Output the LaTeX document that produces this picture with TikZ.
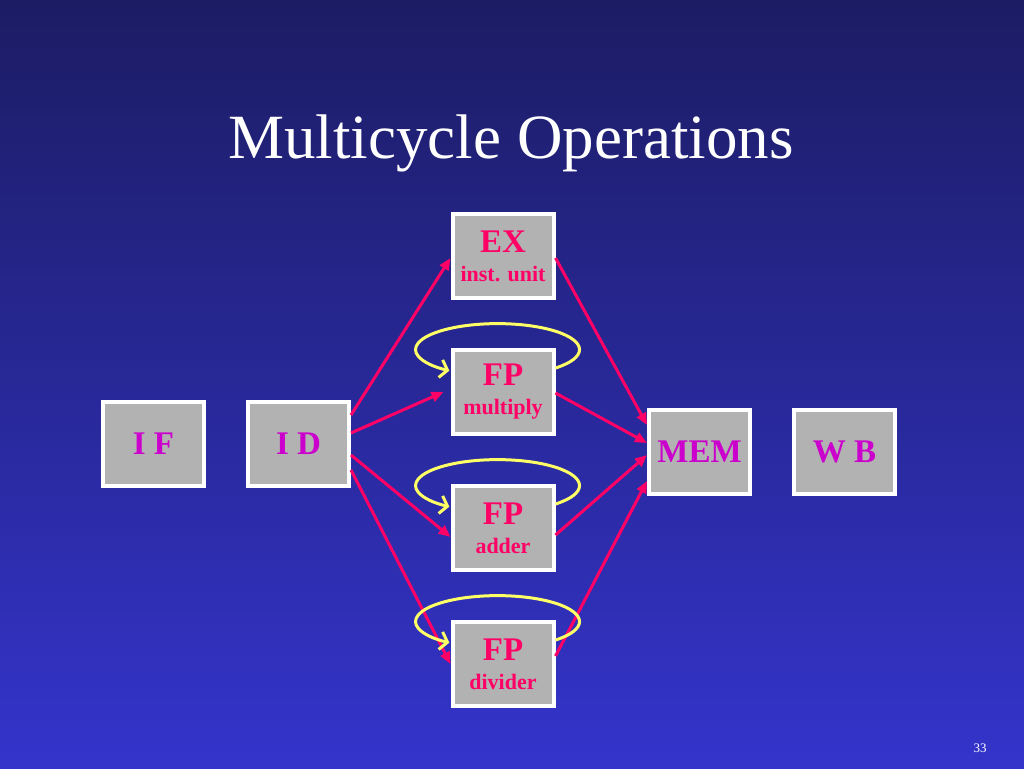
\documentclass[tikz,border=0pt]{standalone}
\usepackage{fontspec}
\setmainfont{Liberation Serif}
\usetikzlibrary{shapes,arrows.meta,positioning,calc}

\definecolor{slidetop}{RGB}{28,28,100}
\definecolor{slidebottom}{RGB}{52,52,204}
\definecolor{boxgray}{RGB}{178,178,178}
\definecolor{stagemag}{RGB}{204,0,204}
\definecolor{unitpink}{RGB}{255,0,102}
\definecolor{loopyellow}{RGB}{255,255,102}

\begin{document}
\begin{tikzpicture}[
    x=1pt, y=-1pt,
    stage/.style={rectangle, draw=white, line width=4pt, fill=boxgray, minimum width=101pt, minimum height=84pt, inner sep=0pt, align=center, text=stagemag, font=\fontsize{33}{29}\selectfont\bfseries},
    unit/.style={stage, text=unitpink},
    arrow/.style={-{Triangle[length=12pt,width=10pt]}, line width=3pt, draw=unitpink},
    recycle/.style={-{Straight Barb[length=7pt,width=18pt]}, line width=3pt, draw=loopyellow}
]

% Slide background
\useasboundingbox (0,0) rectangle (1024,768);
\shade[top color=slidetop, bottom color=slidebottom] (0,0) rectangle (1024,768);

% Title
\node[font=\fontsize{63}{70}\selectfont, text=white, anchor=base] (title) at (511,158) {Multicycle Operations};

% Front end
\node[stage] (if) at (153.5,443.5) {I F};
\node[stage, right=40pt of if] (id) {I D};

% Execution units
\node[unit] (ex) at (503,256) {EX\\{\fontsize{22}{29}\selectfont inst. unit}};
\node[unit, below=48pt of ex] (fp_mult) {FP\\{\fontsize{22}{29}\selectfont multiply}};
\node[unit, below=48pt of fp_mult] (fp_add) {FP\\{\fontsize{22}{29}\selectfont adder}};
\node[unit, below=48pt of fp_add] (fp_div) {FP\\{\fontsize{22}{29}\selectfont divider}};

% Back end
\node[stage] (mem) at (699.5,451.5) {MEM};
\node[stage, right=40pt of mem] (wb) {W B};

% Issue arrows
\draw[arrow] ([yshift=28.5pt]id.east) -- ([yshift=-2pt]ex.west);
\draw[arrow] ([yshift=10.5pt]id.east) -- ([xshift=-7pt]fp_mult.west);
\draw[arrow] ([yshift=-11.5pt]id.east) -- ([yshift=-9pt]fp_add.west);
\draw[arrow] ([yshift=-26.5pt]id.east) -- (fp_div.west);

% Arrows into MEM
\draw[arrow] ([yshift=-2pt]ex.east) -- ([yshift=26.5pt]mem.west);
\draw[arrow] ([yshift=-1pt]fp_mult.east) -- ([yshift=8.5pt]mem.west);
\draw[arrow] ([yshift=-7pt]fp_add.east) -- ([yshift=-3.5pt]mem.west);
\draw[arrow] ([yshift=8pt]fp_div.east) -- ([yshift=-29.5pt]mem.west);

% Multicycle loops
\draw[recycle] ([yshift=24pt]fp_mult.east) arc[start angle=-45, end angle=234, x radius=82pt, y radius=26pt];
\draw[recycle] ([yshift=24pt]fp_add.east) arc[start angle=-45, end angle=234, x radius=82pt, y radius=26pt];
\draw[recycle] ([yshift=24pt]fp_div.east) arc[start angle=-45, end angle=234, x radius=82pt, y radius=26pt];

% Slide number
\node[font=\fontsize{13}{14}\selectfont, text=white] (page_num) at (980,748) {33};

\end{tikzpicture}
\end{document}
